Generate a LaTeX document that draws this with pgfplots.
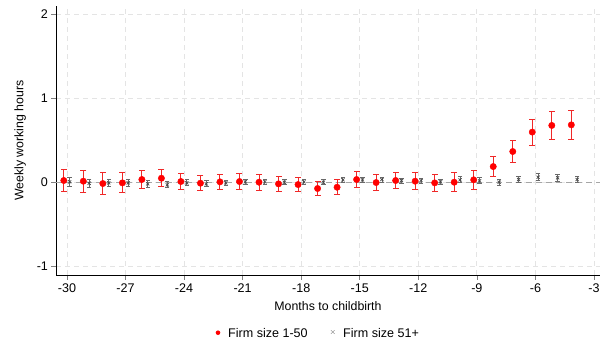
\documentclass[border=0pt]{standalone}
\usepackage{pgfplots}
\usepackage{pgfplotstable}
\usepackage{fontspec}
\setmainfont{Liberation Sans}
\pgfplotsset{compat=1.18}
\definecolor{sred}{RGB}{255,0,0}
\definecolor{ebred}{RGB}{240,40,40}
\definecolor{sgray}{RGB}{70,70,70}
\definecolor{ebgray}{RGB}{105,105,105}
\definecolor{gridc}{RGB}{228,228,228}
\pgfplotstableread{
m y
-30 0.024
-29 0.016
-28 -0.012
-27 -0.004
-26 0.036
-25 0.051
-24 0.012
-23 -0.008
-22 0.008
-21 0.012
-20 0.004
-19 -0.016
-18 -0.024
-17 -0.071
-16 -0.056
-15 0.036
-14 0.000
-13 0.024
-12 0.016
-11 -0.004
-10 0.004
-9 0.032
-8 0.19
-7 0.369
-6 0.60
-5 0.679
-4 0.686
}\smalltab
\pgfplotstableread{
m lo hi
-30 -0.111 0.159
-29 -0.114 0.146
-28 -0.142 0.118
-27 -0.124 0.116
-26 -0.074 0.146
-25 -0.049 0.151
-24 -0.088 0.112
-23 -0.098 0.082
-22 -0.082 0.098
-21 -0.078 0.102
-20 -0.089 0.097
-19 -0.103 0.071
-18 -0.109 0.061
-17 -0.156 0.014
-16 -0.146 0.034
-15 -0.054 0.126
-14 -0.093 0.093
-13 -0.073 0.121
-12 -0.084 0.116
-11 -0.104 0.096
-10 -0.106 0.114
-9 -0.078 0.142
-8 0.067 0.313
-7 0.234 0.504
-6 0.445 0.755
-5 0.510 0.848
-4 0.516 0.856
}\smallci
\pgfplotstableread{
m v
-30 -0.111
-30 0.159
-30 nan
-29 -0.114
-29 0.146
-29 nan
-28 -0.142
-28 0.118
-28 nan
-27 -0.124
-27 0.116
-27 nan
-26 -0.074
-26 0.146
-26 nan
-25 -0.049
-25 0.151
-25 nan
-24 -0.088
-24 0.112
-24 nan
-23 -0.098
-23 0.082
-23 nan
-22 -0.082
-22 0.098
-22 nan
-21 -0.078
-21 0.102
-21 nan
-20 -0.089
-20 0.097
-20 nan
-19 -0.103
-19 0.071
-19 nan
-18 -0.109
-18 0.061
-18 nan
-17 -0.156
-17 0.014
-17 nan
-16 -0.146
-16 0.034
-16 nan
-15 -0.054
-15 0.126
-15 nan
-14 -0.093
-14 0.093
-14 nan
-13 -0.073
-13 0.121
-13 nan
-12 -0.084
-12 0.116
-12 nan
-11 -0.104
-11 0.096
-11 nan
-10 -0.106
-10 0.114
-10 nan
-9 -0.078
-9 0.142
-9 nan
-8 0.067
-8 0.313
-8 nan
-7 0.234
-7 0.504
-7 nan
-6 0.445
-6 0.755
-6 nan
-5 0.510
-5 0.848
-5 nan
-4 0.516
-4 0.856
-4 nan
}\smallseg
\pgfplotstableread{
m y
-30 0.008
-29 -0.008
-28 -0.004
-27 -0.004
-26 -0.016
-25 -0.028
-24 -0.004
-23 -0.016
-22 -0.004
-21 0.008
-20 0.008
-19 0.004
-18 0.008
-17 0.004
-16 0.032
-15 0.032
-14 0.036
-13 0.024
-12 0.024
-11 0.008
-10 0.032
-9 0.02
-8 0.004
-7 0.036
-6 0.063
-5 0.056
-4 0.036
}\largetab
\pgfplotstableread{
m lo hi
-30 -0.047 0.063
-29 -0.058 0.042
-28 -0.049 0.041
-27 -0.044 0.036
-26 -0.056 0.024
-25 -0.063 0.007
-24 -0.039 0.031
-23 -0.051 0.019
-22 -0.034 0.026
-21 -0.022 0.038
-20 -0.022 0.038
-19 -0.026 0.034
-18 -0.022 0.038
-17 -0.026 0.034
-16 0.002 0.062
-15 0.002 0.062
-14 0.006 0.066
-13 -0.006 0.054
-12 -0.006 0.054
-11 -0.022 0.038
-10 -0.003 0.067
-9 -0.015 0.055
-8 -0.031 0.039
-7 -0.004 0.076
-6 0.023 0.103
-5 0.016 0.096
-4 -0.004 0.076
}\largeci
\pgfplotstableread{
m v
-30 -0.047
-30 0.063
-30 nan
-29 -0.058
-29 0.042
-29 nan
-28 -0.049
-28 0.041
-28 nan
-27 -0.044
-27 0.036
-27 nan
-26 -0.056
-26 0.024
-26 nan
-25 -0.063
-25 0.007
-25 nan
-24 -0.039
-24 0.031
-24 nan
-23 -0.051
-23 0.019
-23 nan
-22 -0.034
-22 0.026
-22 nan
-21 -0.022
-21 0.038
-21 nan
-20 -0.022
-20 0.038
-20 nan
-19 -0.026
-19 0.034
-19 nan
-18 -0.022
-18 0.038
-18 nan
-17 -0.026
-17 0.034
-17 nan
-16 0.002
-16 0.062
-16 nan
-15 0.002
-15 0.062
-15 nan
-14 0.006
-14 0.066
-14 nan
-13 -0.006
-13 0.054
-13 nan
-12 -0.006
-12 0.054
-12 nan
-11 -0.022
-11 0.038
-11 nan
-10 -0.003
-10 0.067
-10 nan
-9 -0.015
-9 0.055
-9 nan
-8 -0.031
-8 0.039
-8 nan
-7 -0.004
-7 0.076
-7 nan
-6 0.023
-6 0.103
-6 nan
-5 0.016
-5 0.096
-5 nan
-4 -0.004
-4 0.076
-4 nan
}\largeseg
\begin{document}
\begin{tikzpicture}[x=1bp,y=1bp]
\useasboundingbox (0,0) rectangle (606,345);
\begin{axis}[
  at={(56bp,70bp)}, anchor=south west,
  scale only axis, width=544bp, height=269bp,
  xmin=-30.56, xmax=-2.69, ymin=-1.1, ymax=2.1,
  axis x line*=bottom, axis y line*=left,
  axis line style={black, line width=0.8pt, -},
  xtick={-30,-27,-24,-21,-18,-15,-12,-9,-6,-3},
  xticklabels={-30,-27,-24,-21,-18,-15,-12,-9,-6,-3},
  ytick={-1,0,1,2}, yticklabels={-1,0,1,2},
  tick align=outside, major tick length=4.5bp,
  tick style={line width=0.6pt},
  tick label style={font=\fontsize{12.6}{14}\selectfont},
  xticklabel style={yshift=-0.5bp},
  grid=major, major grid style={gridc, dashed, dash pattern=on 5bp off 4bp, line width=0.8pt},
  xlabel={Months to childbirth}, ylabel={Weekly working hours},
  label style={font=\fontsize{12.4}{14}\selectfont},
  xlabel style={yshift=-2bp},
  ylabel style={yshift=4bp},
  clip=false,
  unbounded coords=jump,
]
\addplot[gray!70, dashed, dash pattern=on 6bp off 4bp, line width=0.8pt, forget plot] coordinates {(-30.56,0) (-2.69,0)};
\addplot[ebgray, line width=0.9pt, solid, mark=none, forget plot]
  table[x expr=\thisrow{m}+0.14, y=v]{\largeseg};
\pgfplotsinvokeforeach{lo,hi}{
  \addplot[only marks, ebgray, mark=-, mark size=2.2bp, mark options={line width=0.9pt, solid}, forget plot]
    table[x expr=\thisrow{m}+0.14, y=#1]{\largeci};
}
\addplot[ebred, line width=1pt, solid, mark=none, forget plot]
  table[x expr=\thisrow{m}-0.16, y=v]{\smallseg};
\pgfplotsinvokeforeach{lo,hi}{
  \addplot[only marks, ebred, mark=-, mark size=3bp, mark options={line width=1pt, solid}, forget plot]
    table[x expr=\thisrow{m}-0.16, y=#1]{\smallci};
}
\addplot[only marks, color=sgray, mark=x, mark size=2.2bp, line width=0.7pt]
  table[x expr=\thisrow{m}+0.14, y=y]{\largetab};
\addplot[only marks, color=sred, mark=*, mark size=3.2bp]
  table[x expr=\thisrow{m}-0.16, y=y]{\smalltab};
\end{axis}
\begin{scope}[font=\fontsize{12.6}{14}\selectfont]
\fill[sred] (218,12.3) circle (2.3);
\node[anchor=west, inner sep=0pt] at (228,12.3) {Firm size 1-50};
\node[sgray, inner sep=0pt] at (333,12.8) {\fontsize{8}{8}\selectfont$\times$};
\node[anchor=west, inner sep=0pt] at (343,12.3) {Firm size 51+};
\end{scope}
\end{tikzpicture}
\end{document}
